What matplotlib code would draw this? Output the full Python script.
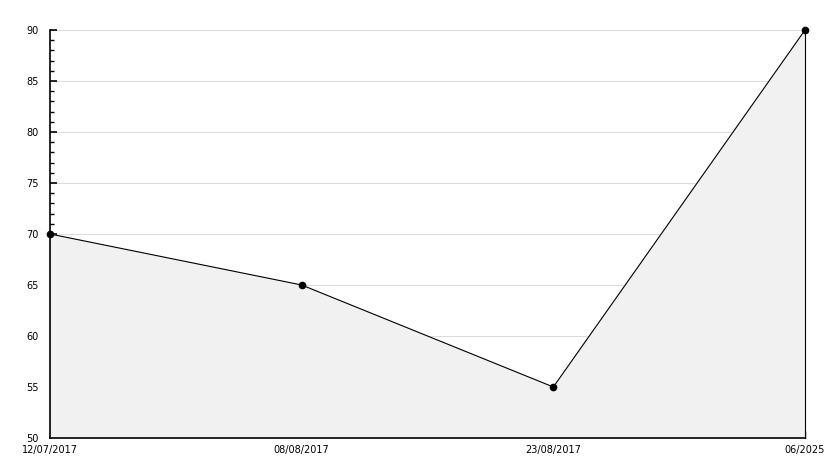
import matplotlib
matplotlib.use("Agg")
import matplotlib.pyplot as plt
from matplotlib.ticker import MultipleLocator

dates = ["12/07/2017", "08/08/2017", "23/08/2017", "06/2025"]
values = [70, 65, 55, 90]

W, H = 834, 468
fig = plt.figure(figsize=(W / 100, H / 100), dpi=100)
ax = fig.add_axes([50 / W, 30 / H, 755 / W, 408 / H])

x = list(range(len(dates)))
ax.fill_between(x, values, 50, color="#f1f1f1", zorder=1)
ax.plot(x, values, color="black", linewidth=0.8, marker="o", markersize=4.5, zorder=3,
        clip_on=False)

ax.set_xlim(0, len(dates) - 1)
ax.set_ylim(50, 90)
ax.set_xticks(x)
ax.set_xticklabels(dates)
ax.yaxis.set_major_locator(MultipleLocator(5))
ax.yaxis.set_minor_locator(MultipleLocator(1))
ax.grid(axis="y", which="major", color="#dddddd", linewidth=0.8, zorder=0)
ax.set_axisbelow(True)

ax.spines["top"].set_visible(False)
ax.spines["right"].set_linewidth(0.8)
ax.spines["left"].set_linewidth(1.2)
ax.spines["bottom"].set_linewidth(1.2)
ax.tick_params(axis="y", which="major", direction="in", length=5, width=1.2, labelsize=7, pad=8)
ax.tick_params(axis="y", which="minor", direction="in", length=3, width=1)
ax.tick_params(axis="x", direction="in", length=5, width=1, labelsize=7, pad=5)

# nudge the tick labels up a little, as in the reference
for lab in ax.get_yticklabels():
    lab.set_verticalalignment("center_baseline")

fig.savefig("out.png", dpi=100)
